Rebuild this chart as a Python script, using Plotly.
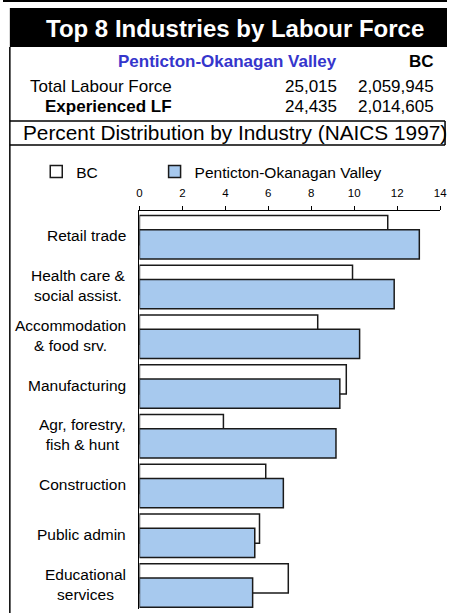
"""Top 8 industries by labour force (plotly)"""

import plotly.graph_objects as go

W, H = 454, 613
FONT = "Liberation Sans, Arial, sans-serif"

# header table
title = "Top 8 Industries by Labour Force"
region = "Penticton-Okanagan Valley"
province = "BC"
row_labels = ["Total Labour Force", "Experienced LF"]
region_values = ["25,015", "24,435"]
province_values = ["2,059,945", "2,014,605"]
subtitle = "Percent Distribution by Industry (NAICS 1997)"

# chart data (percent)
industries = [
    "Retail trade",
    "Health care &<br>social assist.",
    "Accommodation<br>& food srv.",
    "Manufacturing",
    "Agr, forestry,<br>fish & hunt",
    "Construction",
    "Public admin",
    "Educational<br>services",
]
bc_pct = [11.56, 9.92, 8.30, 9.63, 3.91, 5.88, 5.59, 6.93]
region_pct = [13.03, 11.86, 10.25, 9.33, 9.15, 6.70, 5.37, 5.27]


def px(x):
    return x / W


def py(y):
    return 1 - y / H


fig = go.Figure()

# BC drawn first (behind), region on top
fig.add_trace(go.Bar(
    y=industries, x=bc_pct, orientation="h", name=province,
    marker=dict(color="white", line=dict(color="#1a1a1a", width=1.5)),
    width=0.59, offset=-0.41, legend="legend",
))
fig.add_trace(go.Bar(
    y=industries, x=region_pct, orientation="h", name=region,
    marker=dict(color="#a7c9ee", line=dict(color="#1a1a1a", width=1.5)),
    width=0.59, offset=-0.125, legend="legend2",
))

# category labels (centred multi-line text)
for name in industries:
    fig.add_annotation(
        x=px(128), xref="paper", y=name, yref="y",
        text=name, showarrow=False, xanchor="right", yanchor="middle",
        align="center", font=dict(size=15.5, color="black", family=FONT),
    )

# header shapes
shapes = [
    dict(type="line", x0=0, x1=1, y0=py(1), y1=py(1), line=dict(color="black", width=2)),
    dict(type="rect", x0=px(7), x1=1, y0=py(47), y1=py(8), fillcolor="black",
         line=dict(width=0)),
    dict(type="line", x0=px(7), x1=px(7), y0=py(47), y1=0, line=dict(color="black", width=1.5)),
    dict(type="line", x0=px(7), x1=px(452), y0=py(121), y1=py(121),
         line=dict(color="black", width=1.5)),
    dict(type="line", x0=px(452), x1=px(452), y0=py(121), y1=py(145),
         line=dict(color="black", width=1.5)),
    dict(type="line", x0=px(7), x1=px(452), y0=py(145), y1=py(145),
         line=dict(color="black", width=1.5)),
]
for s in shapes:
    s.update(xref="paper", yref="paper")
    fig.add_shape(**s)


def note(text, x, y, anchor, size=17, color="black", bold=False):
    if bold:
        text = f"<b>{text}</b>"
    fig.add_annotation(
        x=px(x), y=py(y), xref="paper", yref="paper", text=text,
        showarrow=False, xanchor=anchor, yanchor="middle",
        font=dict(size=size, color=color, family=FONT),
    )


note(title, 237, 28, "center", size=24, color="white", bold=True)
note(region, 344, 62, "right", color="#3535cc", bold=True)
note(province, 443, 62, "right", bold=True)
note(row_labels[0], 26, 86, "left")
note(row_labels[1], 41, 107, "left", bold=True)
for i, yy in enumerate([86, 107]):
    note(region_values[i], 344, yy, "right")
    note(province_values[i], 443, yy, "right")
note(subtitle, 237, 133, "center", size=20.8)

legend_style = dict(
    orientation="h", y=py(172), xanchor="left", yanchor="middle",
    font=dict(size=15.5), bgcolor="rgba(0,0,0,0)",
)

fig.update_layout(
    width=W, height=H,
    margin=dict(l=0, r=0, t=0, b=0),
    paper_bgcolor="white", plot_bgcolor="white",
    barmode="overlay",
    font=dict(family=FONT, color="black"),
    showlegend=True,
    legend=dict(x=px(34), **legend_style),
    legend2=dict(x=px(155), **legend_style),
    xaxis=dict(
        domain=[px(139.5), px(447)], range=[0, 14], dtick=2, side="top",
        ticks="outside", ticklen=4, tickcolor="black",
        showline=True, linecolor="black", linewidth=1,
        showgrid=False, zeroline=False,
        tickfont=dict(size=11.5, color="black"), ticklabelstandoff=4,
    ),
    yaxis=dict(
        domain=[py(609), py(211)], range=[7.5, -0.5],
        showticklabels=False, ticks="",
        showline=True, linecolor="black", linewidth=1,
        showgrid=False, zeroline=False,
    ),
)

# page body has a default 8px margin; remove it so the figure fills the window
fig.write_html(
    "out.html",
    config={"displayModeBar": False},
    post_script="document.body.style.margin='0';",
)
